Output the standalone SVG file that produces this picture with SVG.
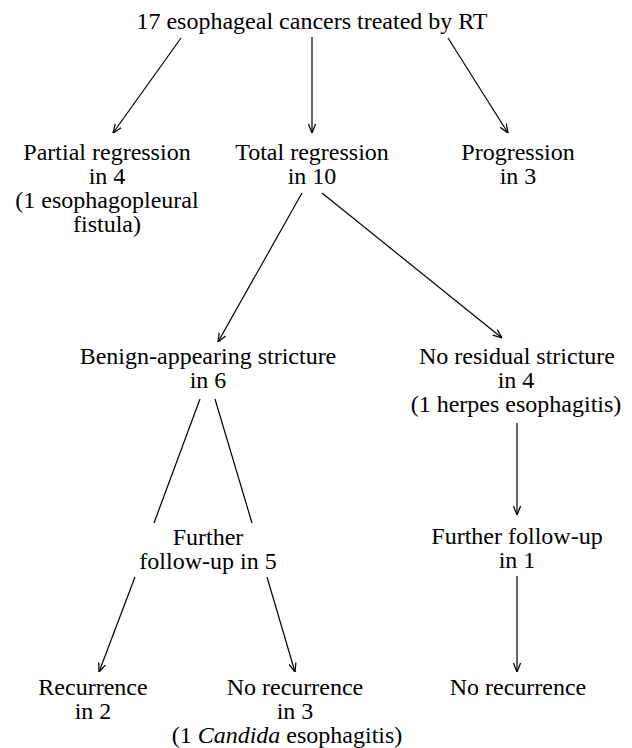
<svg xmlns="http://www.w3.org/2000/svg" width="632" height="748" viewBox="0 0 632 748">
<defs>
<marker id="ah" viewBox="0 0 10 10" refX="10" refY="5" markerWidth="9" markerHeight="9" markerUnits="userSpaceOnUse" orient="auto">
<path d="M0,1 L10,5 L0,9" fill="none" stroke="#000" stroke-width="1.4"/>
</marker>
<style>
text{font-family:"Liberation Serif","Times New Roman",serif;font-size:24px;fill:#000;text-anchor:middle}
.c line{stroke:#000;stroke-width:1.2}
.a{marker-end:url(#ah)}
</style>
</defs>
<rect width="632" height="748" fill="#fff"/>
<g id="root"><text x="312" y="29">17 esophageal cancers treated by RT</text></g>
<g id="partial"><text x="107" y="160">Partial regression</text><text x="107" y="184">in 4</text><text x="107" y="208">(1 esophagopleural</text><text x="107" y="232">fistula)</text></g>
<g id="total"><text x="312" y="160">Total regression</text><text x="312" y="184">in 10</text></g>
<g id="progression"><text x="518" y="160">Progression</text><text x="518" y="184">in 3</text></g>
<g id="benign"><text x="208" y="364">Benign-appearing stricture</text><text x="208" y="388">in 6</text></g>
<g id="noresidual"><text x="517" y="364">No residual stricture</text><text x="516" y="388">in 4</text><text x="516" y="412">(1 herpes esophagitis)</text></g>
<g id="further5"><text x="208" y="545">Further</text><text x="208" y="569">follow-up in 5</text></g>
<g id="further1"><text x="517" y="544">Further follow-up</text><text x="517" y="568">in 1</text></g>
<g id="recurrence"><text x="93" y="695">Recurrence</text><text x="93" y="719">in 2</text></g>
<g id="norec3"><text x="295" y="695">No recurrence</text><text x="295" y="719">in 3</text><text x="287" y="743">(1 <tspan font-style="italic">Candida</tspan> esophagitis)</text></g>
<g id="norec1"><text x="518" y="695">No recurrence</text></g>
<g id="connectors" class="c">
<line class="a" x1="181" y1="38" x2="113" y2="133"/>
<line class="a" x1="312" y1="37" x2="312" y2="133"/>
<line class="a" x1="448" y1="38" x2="508" y2="133"/>
<line class="a" x1="302" y1="193" x2="218" y2="342"/>
<line class="a" x1="322" y1="193" x2="502" y2="338"/>
<line x1="200" y1="399" x2="154" y2="523"/>
<line x1="215" y1="399" x2="252" y2="523"/>
<line class="a" x1="517" y1="423" x2="517" y2="515"/>
<line class="a" x1="135" y1="577" x2="99" y2="672"/>
<line class="a" x1="267" y1="577" x2="295" y2="672"/>
<line class="a" x1="517" y1="576" x2="517" y2="672"/>
</g>
</svg>
